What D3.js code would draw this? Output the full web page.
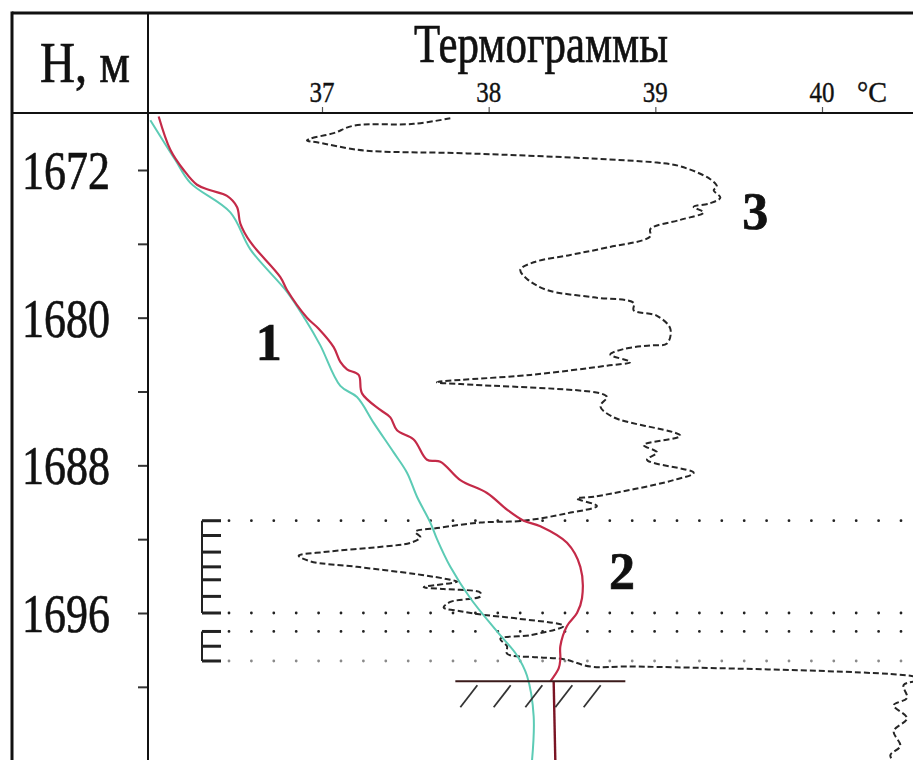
<!DOCTYPE html>
<html>
<head>
<meta charset="utf-8">
<script src="https://cdn.jsdelivr.net/npm/d3@7"></script>
<style>
  html, body { margin: 0; padding: 0; background: #fff; }
  svg { display: block; }
  text { font-family: "Liberation Serif", "Times New Roman", serif; fill: #111; stroke: #111; stroke-width: 0.7; }
</style>
</head>
<body>
<svg id="chart" width="913" height="760"></svg>
<script>
// Depth ticks (m) and temperature ticks (°C)
const depthTicks = [1672, 1676, 1680, 1684, 1688, 1692, 1696, 1700];
const depthLabels = [1672, 1680, 1688, 1696];
const tempTicks = [37, 38, 39, 40];

// Thermogram 1 (background): [temperature °C, depth m]
const curve1 = [
  [35.97, 1669.3], [36.12, 1671.46], [36.21, 1672.7], [36.45, 1674.3], [36.57, 1676.3],
  [36.79, 1678.6], [36.90, 1680.1], [36.99, 1681.5], [37.11, 1683.7], [37.21, 1684.3],
  [37.31, 1685.7], [37.43, 1687.3], [37.51, 1688.4], [37.57, 1689.7], [37.65, 1691.1],
  [37.69, 1692.0], [37.77, 1693.5], [37.89, 1695.2], [38.05, 1697.0], [38.17, 1698.3],
  [38.23, 1699.4], [38.27, 1701.6], [38.26, 1704.0]
];

// Thermogram 2
const curve2 = [
  [36.02, 1669.1], [36.09, 1670.9], [36.17, 1672.0], [36.25, 1672.8], [36.33, 1673.1],
  [36.43, 1673.4], [36.49, 1674.0], [36.51, 1674.9], [36.57, 1675.9], [36.75, 1677.8],
  [36.79, 1678.5], [36.91, 1680.0], [36.98, 1680.6], [37.07, 1681.6], [37.11, 1682.4],
  [37.15, 1682.8], [37.22, 1683.1], [37.24, 1684.1], [37.35, 1685.0], [37.41, 1685.4],
  [37.45, 1686.1], [37.55, 1686.6], [37.63, 1687.7], [37.71, 1687.8], [37.83, 1688.8],
  [37.99, 1689.5], [38.11, 1690.4], [38.21, 1691.0], [38.31, 1691.3], [38.47, 1692.2],
  [38.55, 1693.5], [38.56, 1695.2], [38.53, 1696.0], [38.47, 1696.7], [38.43, 1697.8],
  [38.43, 1698.5], [38.42, 1699.0], [38.37, 1699.7]
];
// Thermogram 2 below the bottom-hole mark
const curve2Tail = [[38.39, 1699.7], [38.40, 1704.0]];

// Thermogram 3
const curve3 = [
  [37.77, 1669.2], [37.55, 1669.5], [37.19, 1669.6], [37.07, 1670.0], [36.93, 1670.3],
  [36.91, 1670.4], [36.97, 1670.5], [37.21, 1670.9], [37.35, 1671.0], [37.87, 1671.1],
  [39.01, 1671.6], [39.15, 1671.8], [39.33, 1672.5], [39.37, 1672.9], [39.35, 1673.1],
  [39.39, 1673.5], [39.33, 1673.8], [39.23, 1674.0], [39.29, 1674.3], [39.15, 1674.7],
  [38.97, 1675.2], [38.97, 1675.6], [38.71, 1676.2], [38.49, 1676.6], [38.27, 1677.0],
  [38.19, 1677.4], [38.23, 1677.9], [38.35, 1678.5], [38.63, 1678.9], [38.87, 1679.2],
  [38.87, 1679.6], [39.01, 1679.9], [39.09, 1680.6], [39.07, 1681.4], [38.97, 1681.5],
  [38.81, 1681.7], [38.73, 1682.0], [38.85, 1682.4], [38.71, 1682.6], [38.25, 1683.1],
  [37.69, 1683.5], [37.83, 1683.6], [38.67, 1684.1], [38.71, 1684.3], [38.67, 1684.8],
  [38.75, 1685.4], [39.15, 1686.4], [38.93, 1686.9], [39.01, 1687.3], [38.95, 1687.7],
  [39.23, 1688.4], [39.11, 1688.8], [38.63, 1689.7], [38.53, 1689.8], [38.65, 1690.2],
  [38.47, 1690.6], [38.21, 1691.0], [37.95, 1691.1], [37.69, 1691.4], [37.56, 1691.6],
  [37.59, 1691.9], [37.53, 1692.2], [37.37, 1692.4], [37.01, 1692.7], [36.86, 1692.9],
  [36.93, 1693.2], [37.21, 1693.5], [37.57, 1693.9], [37.77, 1694.2], [37.81, 1694.3],
  [37.61, 1694.6], [37.73, 1694.7], [37.95, 1694.9], [37.95, 1695.1], [37.77, 1695.4],
  [37.73, 1695.7], [37.83, 1695.9], [37.97, 1696.1], [38.17, 1696.3], [38.45, 1696.7],
  [38.25, 1697.2], [38.07, 1697.4], [38.11, 1697.8], [38.11, 1698.2], [38.29, 1698.4],
  [38.45, 1698.5], [38.61, 1698.9], [38.87, 1698.9], [40.53, 1699.4], [40.62, 1699.6],
  [40.49, 1699.9], [40.51, 1700.6], [40.43, 1701.0], [40.51, 1701.7], [40.43, 1702.4],
  [40.47, 1703.2], [40.41, 1703.7], [40.44, 1704.2]
];

// Perforation intervals (m): [top, bottom] and the shot marks within them
const perfIntervals = [[1691.0, 1696.0], [1697.0, 1698.6]];
const perfMarks = [1691.0, 1691.8, 1692.7, 1693.5, 1694.2, 1695.1, 1696.0, 1697.0, 1697.8, 1698.6];
// Dotted interval boundaries
const intervalLines = [1691.0, 1696.0, 1697.0, 1698.6];
// Bottom hole
const bottomDepth = 1699.7;
const bottomSpan = [37.8, 38.82];
const hatchTemps = [37.83, 38.03, 38.22, 38.40, 38.57];

// Curve number labels: [text, temperature, depth]
const curveLabels = [["1", 36.68, 1682.3], ["2", 38.8, 1694.7], ["3", 39.6, 1675.2]];

const svg = d3.select("#chart");
const W = 913, H = 760;
const frame = { left: 12, top: 13, divider: 148, header: 113 };

const x = d3.scaleLinear().domain([37, 40]).range([322, 822]);
const y = d3.scaleLinear().domain([1672, 1696]).range([170, 613]);

// Clip the plotting area
svg.append("defs").append("clipPath").attr("id", "plot")
  .append("rect")
  .attr("x", frame.divider + 1).attr("y", frame.header + 1)
  .attr("width", W - frame.divider - 1).attr("height", H - frame.header - 1);

const plot = svg.append("g").attr("clip-path", "url(#plot)");

// Dotted interval boundaries
plot.selectAll("line.interval").data(intervalLines).join("line")
  .attr("class", "interval")
  .attr("x1", 229).attr("x2", W + 10)
  .attr("y1", d => y(d)).attr("y2", d => y(d))
  .attr("stroke", (d, i) => i === 3 ? "#8a8a8a" : "#222")
  .attr("stroke-width", 2.8)
  .attr("stroke-linecap", "round")
  .attr("stroke-dasharray", "0 22.4");

// Perforation marks
const perf = plot.append("g");
perf.selectAll("line.pv").data(perfIntervals).join("line")
  .attr("x1", 202).attr("x2", 202)
  .attr("y1", d => y(d[0])).attr("y2", d => y(d[1]))
  .attr("stroke", "#222").attr("stroke-width", 2);
perf.selectAll("line.ph").data(perfMarks).join("line")
  .attr("x1", 202).attr("x2", 221)
  .attr("y1", d => y(d)).attr("y2", d => y(d))
  .attr("stroke", "#222").attr("stroke-width", 3);

const line = d3.line().x(d => x(d[0])).y(d => y(d[1]));
const smooth = d3.line().x(d => x(d[0])).y(d => y(d[1])).curve(d3.curveCatmullRom.alpha(0.5));

// Thermogram 3
plot.append("path").datum(curve3)
  .attr("d", smooth)
  .attr("fill", "none").attr("stroke", "#262626")
  .attr("stroke-width", 2)
  .attr("stroke-dasharray", "6 3")
  .attr("stroke-linejoin", "round");

// Thermogram 1
plot.append("path").datum(curve1)
  .attr("d", smooth)
  .attr("fill", "none").attr("stroke", "#5ccbb5").attr("stroke-width", 2);

// Thermogram 2
plot.append("path").datum(curve2)
  .attr("d", smooth)
  .attr("fill", "none").attr("stroke", "#c42a48").attr("stroke-width", 2.2);
plot.append("path").datum(curve2Tail)
  .attr("d", line)
  .attr("fill", "none").attr("stroke", "#7a1424").attr("stroke-width", 2.4);

// Bottom hole with hatching
plot.append("line")
  .attr("x1", x(bottomSpan[0])).attr("x2", x(bottomSpan[1]))
  .attr("y1", y(bottomDepth)).attr("y2", y(bottomDepth))
  .attr("stroke", "#3a1a1a").attr("stroke-width", 2);
plot.selectAll("line.hatch").data(hatchTemps).join("line")
  .attr("x1", d => x(d)).attr("y1", y(bottomDepth) + 26)
  .attr("x2", d => x(d) + 17).attr("y2", y(bottomDepth) + 4)
  .attr("stroke", "#333").attr("stroke-width", 1.8);

// Curve numbers
plot.selectAll("text.num").data(curveLabels).join("text")
  .attr("x", d => x(d[1])).attr("y", d => y(d[2]))
  .attr("text-anchor", "middle")
  .attr("font-size", 52).attr("font-weight", "bold")
  .text(d => d[0]);

// Depth ticks in the left column
svg.append("g")
  .attr("transform", `translate(${frame.divider},0)`)
  .call(d3.axisLeft(y).tickValues(depthTicks).tickSize(10).tickFormat(""))
  .call(g => g.select(".domain").remove())
  .call(g => g.selectAll(".tick line").attr("stroke", "#333").attr("stroke-width", 2));

svg.selectAll("text.depth").data(depthLabels).join("text")
  .attr("class", "depth")
  .attr("x", 22).attr("y", d => y(d) + 19)
  .attr("font-size", 55)
  .attr("textLength", 88).attr("lengthAdjust", "spacingAndGlyphs")
  .text(d => d);

// Temperature ticks along the header line
svg.append("g")
  .attr("transform", `translate(0,${frame.header})`)
  .call(d3.axisTop(x).tickValues(tempTicks).tickSize(6).tickFormat(""))
  .call(g => g.select(".domain").remove())
  .call(g => g.selectAll(".tick line").attr("stroke", "#555").attr("stroke-width", 1.2));

svg.selectAll("text.temp").data(tempTicks).join("text")
  .attr("class", "temp")
  .attr("x", d => x(d)).attr("y", 102)
  .attr("text-anchor", "middle")
  .attr("font-size", 30)
  .style("stroke-width", 0.4)
  .attr("textLength", 25).attr("lengthAdjust", "spacingAndGlyphs")
  .text(d => d);
svg.append("text")
  .attr("x", 857).attr("y", 102)
  .attr("font-size", 30)
  .style("stroke-width", 0.4)
  .attr("textLength", 30).attr("lengthAdjust", "spacingAndGlyphs")
  .text("°C");

// Titles
svg.append("text")
  .attr("x", 40).attr("y", 82)
  .attr("font-size", 56)
  .attr("textLength", 90).attr("lengthAdjust", "spacingAndGlyphs")
  .text("H, м");
svg.append("text")
  .attr("x", 414).attr("y", 62)
  .attr("font-size", 55)
  .attr("textLength", 254).attr("lengthAdjust", "spacingAndGlyphs")
  .text("Термограммы");

// Frame
const fr = svg.append("g").attr("stroke", "#111").attr("fill", "none");
fr.append("line").attr("x1", frame.left).attr("x2", frame.left).attr("y1", frame.top - 1.5).attr("y2", H).attr("stroke-width", 3);
fr.append("line").attr("x1", frame.left).attr("x2", W).attr("y1", frame.top).attr("y2", frame.top).attr("stroke-width", 3);
fr.append("line").attr("x1", frame.divider).attr("x2", frame.divider).attr("y1", frame.top).attr("y2", H).attr("stroke-width", 2);
fr.append("line").attr("x1", frame.left).attr("x2", W).attr("y1", frame.header).attr("y2", frame.header).attr("stroke-width", 2);
</script>
</body>
</html>
